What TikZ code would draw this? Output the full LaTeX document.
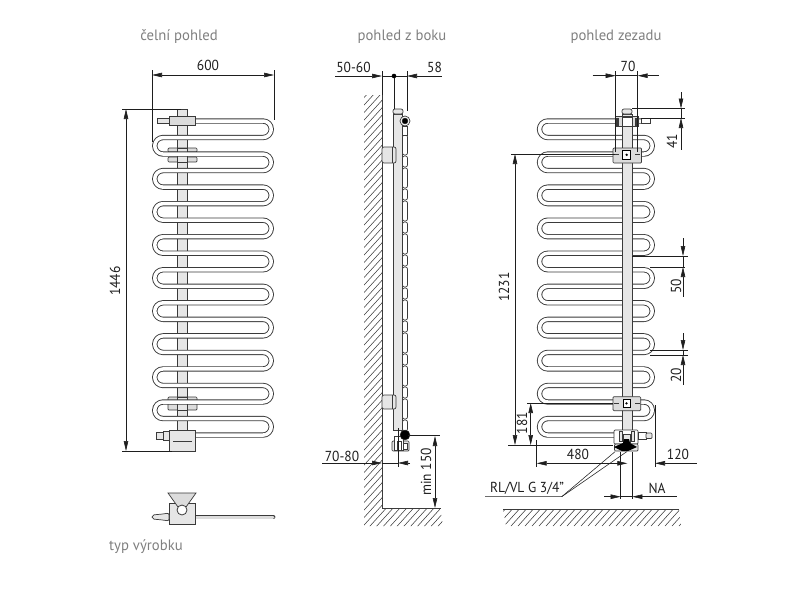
\documentclass[tikz,border=0pt]{standalone}
\usepackage{fontspec}
\setmainfont{PT Sans}
\usetikzlibrary{arrows.meta, positioning}

\definecolor{inkc}{HTML}{3A3A3A}
\definecolor{railc}{HTML}{E6E6E6}
\definecolor{partc}{HTML}{DCDCDC}
\definecolor{titlec}{HTML}{7F7F7F}
\definecolor{dimc}{HTML}{1E1E1E}

\tikzset{
tube/.style={draw=inkc, line width=0.9pt, double=white, double distance=3.5pt, line cap=butt, line join=round},
part/.style={draw=inkc, line width=0.7pt, fill=partc},
railpart/.style={draw=inkc, line width=0.7pt, fill=railc},
dimline/.style={draw=dimc, line width=0.55pt},
hatch/.style={draw=inkc, line width=0.55pt},
bothtips/.style={dimline, {Triangle[length=10pt,width=4.5pt]}-{Triangle[length=10pt,width=4.5pt]}},
onetip/.style={dimline, -{Triangle[length=10pt,width=4.5pt]}},
titletext/.style={text=titlec, font=\fontsize{15}{15}\selectfont\addfontfeature{FakeStretch=0.98}, inner sep=0pt},
dimtext/.style={text=dimc, font=\fontsize{14.5}{15}\selectfont\addfontfeature{FakeStretch=0.93}, inner sep=0pt},
declare function={rowy(\k)=121+16.53*\k;}
}

\begin{document}
\begin{tikzpicture}[x=1pt, y=-1pt]
\useasboundingbox (0,0) rectangle (800,600);

\node[titletext] (titlefront) at (179,37) {čelní pohled};
\node[titletext] (titleside) at (402,37) {pohled z boku};
\node[titletext] (titleback) at (616,37) {pohled zezadu};
\node[titletext] (titletype) at (146,547) {typ výrobku};

% front view
\draw[railpart] (177,125) rectangle (187,430);
\draw[part, rounded corners=1pt] (168,148) rectangle (197,152);
\draw[part, rounded corners=1pt] (168,157) rectangle (197,162);
\draw[part, rounded corners=1pt] (168,397) rectangle (197,410);
\draw[railpart] (177,148) rectangle (187,162);
\draw[railpart] (177,397) rectangle (187,410);
\draw[tube] (190,{rowy(0)})
\foreach \k [evaluate=\k as \kb using int(\k+1), evaluate=\k as \kc using int(\k+2)] in {0,2,...,16} {
-- (263,{rowy(\k)}) arc[start angle=-90, end angle=90, radius=8.265] -- (163,{rowy(\kb)}) arc[start angle=-90, end angle=-270, radius=8.265] -- (263,{rowy(\kc)})
} arc[start angle=-90, end angle=90, radius=8.265] -- (190,{rowy(19)});
\draw[railpart] (177,109) rectangle (187,117);
\draw[railpart] (157.5,118) rectangle (170,123);
\draw[part] (169,116) rectangle (195,125);
\draw[railpart] (156,432) rectangle (163,439);
\draw[railpart] (163,431) rectangle (169,440);
\draw[railpart] (169,430) rectangle (195,451);
\draw[line width=0.8pt, draw=inkc] (173,441) -- (192,441);

\draw[bothtips] (152,75) -- (274,75);
\draw[dimline] (152,70) -- (152,142);
\draw[dimline] (274,70) -- (274,120);
\node[dimtext] (dimwidth) at (208,65) {600};
\draw[bothtips] (126,109) -- (126,451);
\draw[dimline] (122,109) -- (181,109);
\draw[dimline] (122,451) -- (172,451);
\node[dimtext, rotate=90] (dimheight) at (115,281) {1446};

% view from below
\draw[draw=inkc, line width=0.9pt, double=partc, double distance=3pt, line cap=round] (192,517) -- (273,517);
\draw[railpart] (169,503) rectangle (195,524);
\draw[part, fill=partc] (168,493) -- (196,493) -- (186,507) -- (178,507) -- cycle;
\draw[draw=inkc, line width=0.8pt, fill=white] (182,510) circle (5);
\draw[railpart, rounded corners=2pt] (152,515) -- (163,514) -- (169,513) -- (169,521) -- (163,520) -- (152,519) -- cycle;

% side view
\begin{scope}
\clip (364,95) -- (382,95) -- (382,508) -- (440,508) -- (443,526) -- (364,526) -- cycle;
\foreach \s in {100,107.5,...,700} {
\draw[hatch] (355,\s) -- (455,\s-110);
}
\end{scope}
\draw[draw=inkc, line width=0.8pt] (382,95) -- (382,508) -- (441,508);

\draw[railpart] (393,114) rectangle (402.5,430);
\draw[railpart, rounded corners=2pt] (393,109) rectangle (403,114);
\foreach \k in {0,...,8} {
\draw[draw=inkc, fill=white, line width=0.7pt, rounded corners=2pt] (402.5,135+33*\k) rectangle (407.5,155+33*\k);
\draw[draw=inkc, fill=white, line width=0.7pt, rounded corners=2pt] (402.5,156+33*\k) rectangle (407.5,167+33*\k);
}
\draw[draw=inkc, fill=white, line width=0.7pt] (405,121) circle (5);
\draw[draw=inkc, fill=black] (405,121) circle (3);
\draw[draw=inkc, fill=white, line width=0.7pt] (402.5,126) rectangle (407.5,135);
\draw[railpart, rounded corners=2pt] (382,147) rectangle (396,163);
\draw[draw=inkc, line width=0.6pt] (392,147) -- (392,163);
\draw[railpart, rounded corners=2pt] (382,395) rectangle (396,409);
\draw[draw=inkc, line width=0.6pt] (392,395) -- (392,409);
\draw[railpart, rounded corners=1pt] (392,441) rectangle (409,451);
\draw[draw=inkc, line width=0.7pt, fill=white] (394,436) rectangle (403,450);
\draw[draw=inkc, line width=0.7pt, fill=white] (397,441) rectangle (401,450);
\draw[draw=inkc, line width=0.7pt, fill=white] (403,443) rectangle (407,449);
\draw[draw=inkc, fill=black] (405,435) circle (5);

\draw[dimline] (335,76) -- (370,76);
\draw[onetip] (370,76) -- (382,76);
\draw[dimline] (382,76) -- (407,76);
\draw[onetip] (419,76) -- (407,76);
\draw[dimline] (419,76) -- (442,76);
\draw[dimline] (382,71) -- (382,95);
\draw[dimline] (394,76) -- (394,109);
\draw[dimline] (407,71) -- (407,111);
\fill[black] (394,76) circle (2.3);
\node[dimtext] (dimwall) at (353.5,67) {50-60};
\node[dimtext] (dimdepth) at (434.5,67) {58};

\draw[dimline] (322,463) -- (370,463);
\draw[onetip] (370,463) -- (382,463);
\draw[dimline] (382,463) -- (398,463);
\draw[onetip] (410,463) -- (398,463);
\draw[dimline] (398,428) -- (398,467);
\node[dimtext] (dimaxis) at (342,456) {70-80};
\draw[bothtips] (435,436) -- (435,508);
\draw[dimline] (408,435) -- (440,435);
\node[dimtext, rotate=90] (dimfloor) at (426,472) {min 150};

% rear view
\draw[tube] (650,{rowy(0)}) -- (547.8,{rowy(0)}) arc[start angle=-90, end angle=-270, radius=8.265]
\foreach \k [evaluate=\k as \kb using int(\k+1), evaluate=\k as \kc using int(\k+2)] in {1,3,...,17} {
-- (644,{rowy(\k)}) arc[start angle=-90, end angle=90, radius=8.265] -- (547.8,{rowy(\kb)}) arc[start angle=-90, end angle=-270, radius=8.265]
} -- (620,{rowy(19)});
\draw[draw=inkc, line width=0.7pt, fill=white] (641,118) rectangle (650.5,123.5);
\draw[railpart] (622,114) rectangle (632,430);
\draw[railpart, rounded corners=2pt] (622,109) rectangle (632,114);
\draw[part] (615,116) rectangle (638,126);
\draw[draw=inkc, fill=white, line width=0.7pt] (622,117) rectangle (632,126);
\draw[draw=inkc, fill=inkc] (616,118) rectangle (618.5,125);
\draw[draw=inkc, fill=inkc] (635.5,118) rectangle (638,125);
\draw[part, rounded corners=1pt] (613,148) rectangle (641.5,163);
\draw[draw=black, fill=white, line width=1pt] (622.7,150.7) rectangle (630.7,159);
\fill[black] (626.7,154.8) circle (1.3);
\draw[draw=inkc, line width=0.8pt] (614,154.6) -- (619,154.6) (635,154.6) -- (640,154.6);
\draw[part, rounded corners=1pt] (613,396.7) rectangle (640.7,410.7);
\draw[draw=black, fill=white, line width=1pt] (623,399) rectangle (630,407.7);
\fill[black] (626.5,403.4) circle (1.3);
\draw[draw=inkc, line width=0.8pt] (614,403.6) -- (619,403.6) (635,403.6) -- (640,403.6);
% valve
\draw[draw=inkc, line width=0.7pt, fill=white, rounded corners=1pt] (614,430) rectangle (638,444);
\draw[draw=inkc, line width=0.7pt, fill=railc] (619,431) rectangle (622,441);
\draw[draw=inkc, line width=0.7pt, fill=railc] (631,431) rectangle (634,441);
\draw[draw=inkc, line width=0.7pt, fill=railc] (623,434) rectangle (630,442);
\draw[draw=inkc, line width=0.7pt, fill=white] (638,432) rectangle (646,439.5);
\draw[draw=inkc, line width=0.7pt, fill=railc, rounded corners=1pt] (646,433) rectangle (652,438.5);
\draw[railpart, rounded corners=1pt] (614.5,444) rectangle (638,451);
\fill[black] (614,447) -- (623,443) -- (624,439) -- (629,439) -- (630,443) -- (637,447) -- (628,451) -- (622,451) -- cycle;

\begin{scope}
\clip (503,509) -- (679,509) -- (681,526) -- (506,526) -- cycle;
\foreach \s in {490,497,...,720} {
\draw[hatch] (\s,526) -- (\s+19,505);
}
\end{scope}
\draw[draw=inkc, line width=0.8pt] (503,509) -- (679,509);

\draw[dimline] (592.7,75.7) -- (604,75.7);
\draw[onetip] (604,75.7) -- (615.7,75.7);
\draw[dimline] (615.7,75.7) -- (637.7,75.7);
\draw[onetip] (649,75.7) -- (637.7,75.7);
\draw[dimline] (649,75.7) -- (659,75.7);
\draw[dimline] (615.7,71) -- (615.7,152);
\draw[dimline] (637.7,71) -- (637.7,152);
\node[dimtext] (dimbrackets) at (628,66) {70};

\draw[dimline] (681,92) -- (681,97);
\draw[onetip] (681,97) -- (681,108.5);
\draw[dimline] (681,108.5) -- (681,118);
\draw[onetip] (681,129) -- (681,118);
\draw[dimline] (681,129) -- (681,150);
\draw[dimline] (632,108.5) -- (685,108.5);
\draw[dimline] (641,118) -- (685,118);
\node[dimtext, rotate=90] (dimtop) at (672,141) {41};

\draw[dimline] (683,238) -- (683,246);
\draw[onetip] (683,246) -- (683,256);
\draw[dimline] (683,256) -- (683,267);
\draw[onetip] (683,277) -- (683,267);
\draw[dimline] (683,277) -- (683,296.7);
\draw[dimline] (632,256) -- (688,256);
\draw[dimline] (650,267) -- (685,267);
\node[dimtext, rotate=90] (dimpitch) at (676,286) {50};

\draw[dimline] (683,333) -- (683,340);
\draw[onetip] (683,340) -- (683,350);
\draw[dimline] (683,350) -- (683,355);
\draw[onetip] (683,365) -- (683,355);
\draw[dimline] (683,365) -- (683,385);
\draw[dimline] (650,350) -- (688,350);
\draw[dimline] (650,355) -- (688,355);
\node[dimtext, rotate=90] (dimtube) at (676,375) {20};

\draw[bothtips] (515,154) -- (515,445);
\draw[dimline] (511,154) -- (615,154);
\draw[dimline] (508,445) -- (613,445);
\node[dimtext, rotate=90] (dimaxes) at (504,287) {1231};
\draw[bothtips] (530.7,403) -- (530.7,445);
\draw[dimline] (527,403) -- (613,403);
\node[dimtext, rotate=90] (dimvalve) at (522,423) {181};

\draw[dimline] (536.7,440) -- (536.7,467);
\draw[onetip] (546.7,463.3) -- (536.7,463.3);
\draw[dimline] (546.7,463.3) -- (617,463.3);
\draw[onetip] (617,463.3) -- (627.3,463.3);
\node[dimtext] (dimrun) at (578,454) {480};
\draw[dimline] (655,405) -- (655,467);
\draw[onetip] (665,463.3) -- (655,463.3);
\draw[dimline] (665,463.3) -- (697,463.3);
\node[dimtext] (dimside) at (678,454) {120};

\draw[dimline] (620.7,452) -- (620.7,499);
\draw[dimline] (632.3,452) -- (632.3,499);
\draw[dimline] (604,496.7) -- (608,496.7);
\draw[onetip] (608,496.7) -- (620.7,496.7);
\draw[dimline] (620.7,496.7) -- (632.3,496.7);
\draw[onetip] (645,496.7) -- (632.3,496.7);
\draw[dimline] (645,496.7) -- (677,496.7);
\node[dimtext] (dimna) at (657,488) {NA};

\node[dimtext] (dimconn) at (527,488) {RL/VL G 3/4''};
\draw[dimline] (485,496.7) -- (561.7,496.7) -- (615,451.7);
\draw[dimline] (561.7,496.7) -- (626.7,451.7);

\end{tikzpicture}
\end{document}
